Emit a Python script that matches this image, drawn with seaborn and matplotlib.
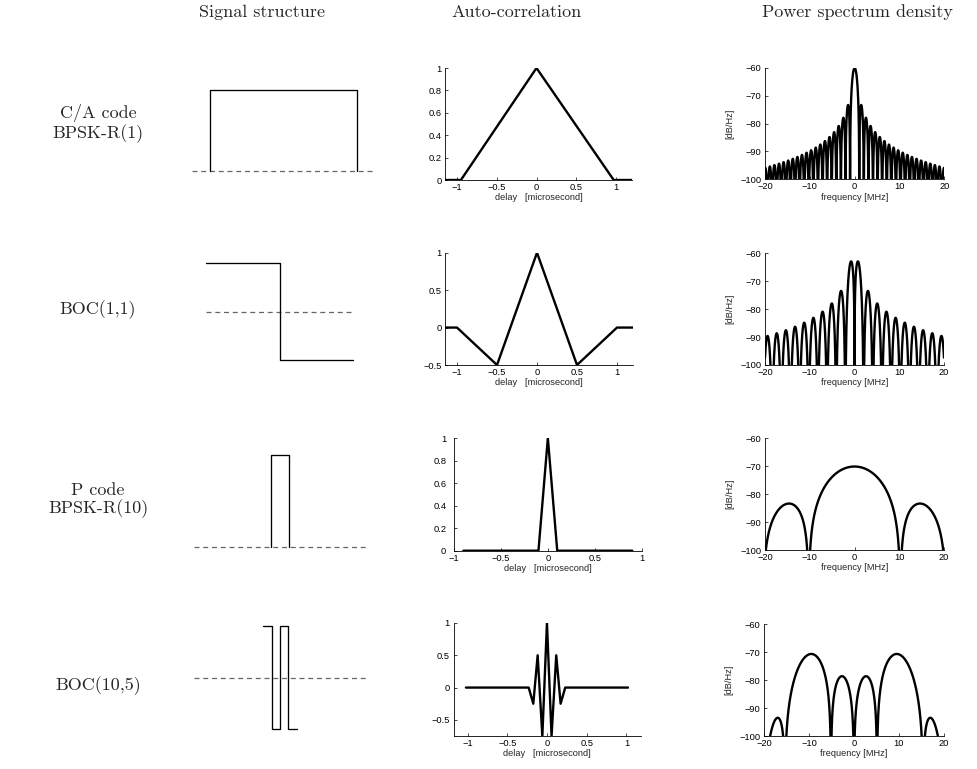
import numpy as np
import matplotlib
matplotlib.use("Agg")
import matplotlib.pyplot as plt
from matplotlib.ticker import FuncFormatter
import seaborn as sns

sns.set_theme(style="white")
plt.rcParams["font.family"] = ["Liberation Sans", "DejaVu Sans"]
plt.rcParams["axes.unicode_minus"] = True

# ---- labels ----------------------------------------------------------------
col_titles = ["Signal structure", "Auto-correlation", "Power spectrum density"]
row_labels = ["C/A code\nBPSK-R(1)", "BOC(1,1)", "P code\nBPSK-R(10)", "BOC(10,5)"]

# ---- signal structure: one chip of each waveform (time in microseconds) -----
sig_t_ca = [0.0, 0.0, 0.9775, 0.9775]
sig_v_ca = [0, 1, 1, 0]
sig_t_boc11 = [0.0, 0.489, 0.489, 0.9775]
sig_v_boc11 = [1, 1, -1, -1]
sig_t_p = [0.0, 0.0, 0.0978, 0.0978]
sig_v_p = [0, 1, 1, 0]
sig_t_boc105 = [0.0, 0.0489, 0.0489, 0.0978, 0.0978, 0.1467, 0.1467, 0.1956]
sig_v_boc105 = [1, 1, -1, -1, 1, 1, -1, -1]

# ---- auto-correlation vertices ---------------------------------------------
ac_delay_ca = [-1.15, -0.95, 0.0, 0.97, 1.2]
ac_val_ca = [0, 0, 1, 0, 0]
ac_delay_boc11 = [-1.15, -1.0, -0.5, 0.0, 0.5, 1.0, 1.2]
ac_val_boc11 = [0, 0, -0.5, 1, -0.5, 0, 0]
ac_delay_p = [-0.9, -0.1, 0.0, 0.1, 0.9]
ac_val_p = [0, 0, 1, 0, 0]
ac_delay_boc105 = [-1.02, -0.23, -0.172, -0.117, -0.058, 0.0,
                   0.058, 0.117, 0.172, 0.23, 1.02]
ac_val_boc105 = [0, 0, -0.25, 0.5, -0.75, 1, -0.75, 0.5, -0.25, 0, 0]

# ---- modulation parameters (MHz): subcarrier rate, chip rate ---------------
mod_subcarrier = [None, 1.023, None, 10.23]
mod_chiprate = [1.023, 1.023, 10.23, 5.115]

W, H = 978, 769
fig = plt.figure(figsize=(W / 100, H / 100), dpi=100)


def box(x0, y0, x1, y1):
    return [x0 / W, 1 - y1 / H, (x1 - x0) / W, (y1 - y0) / H]


serif = "cmr10"
title_fs = 13
# column titles
for x, t in zip([262, 517, 857], col_titles):
    fig.text(x / W, 1 - 12 / H, t, ha="center", va="center",
             fontsize=title_fs, family=serif)
# row titles
for y, t in zip([123.5, 310, 500.5, 686], row_labels):
    fig.text(98 / W, 1 - y / H, t, ha="center", va="center",
             fontsize=title_fs, family=serif, linespacing=1.1)

# ---- signal structure panels -----------------------------------------------
sig_boxes = [(191.7, 90, 375, 170.7), (206, 263.3, 353.3, 360),
             (194, 454.7, 366.7, 547.3), (194, 626, 366.7, 729)]
sig_xlims = [(-0.12, 1.1), (0.0, 0.9775), (-0.403, 0.505), (-0.408, 0.608)]
sig_ylims = [(0, 1), (-1, 1), (0, 1), (-1, 1)]
sig_data = [(sig_t_ca, sig_v_ca), (sig_t_boc11, sig_v_boc11),
            (sig_t_p, sig_v_p), (sig_t_boc105, sig_v_boc105)]
for b, xl, yl, (t, v) in zip(sig_boxes, sig_xlims, sig_ylims, sig_data):
    ax = fig.add_axes(box(*b))
    ax.axhline(0, color="0.4", lw=0.9, dashes=(4, 3), clip_on=False)
    sns.lineplot(x=t, y=v, ax=ax, estimator=None, sort=False,
                 color="black", lw=0.95)
    for ln in ax.lines:
        ln.set_clip_on(False)
    ax.set_xlim(*xl)
    ax.set_ylim(*yl)
    ax.axis("off")


def style_axes(ax, ypad=2.5):
    sns.despine(ax=ax)
    for s in ("left", "bottom"):
        ax.spines[s].set_linewidth(0.6)
        ax.spines[s].set_color("black")
    ax.tick_params(direction="in", length=2.5, width=0.5, labelsize=6.7,
                   colors="black", left=True, bottom=True)
    ax.tick_params(axis="x", pad=2.2)
    ax.tick_params(axis="y", pad=ypad)
    fmt = FuncFormatter(lambda v, p: f"{v:g}".replace("-", "\u2212"))
    ax.xaxis.set_major_formatter(fmt)
    ax.yaxis.set_major_formatter(fmt)


# ---- auto-correlation panels -----------------------------------------------
ac_boxes = [(445, 68, 632, 180), (445, 252.7, 633, 365),
            (454, 438, 641.7, 550.7), (454, 623, 640.7, 736)]
ac_xlims = [(-1.15, 1.2), (-1.15, 1.2), (-1, 1), (-1.17, 1.18)]
ac_ylims = [(0, 1), (-0.5, 1), (0, 1), (-0.75, 1)]
ac_yticks = [[0, 0.2, 0.4, 0.6, 0.8, 1], [-0.5, 0, 0.5, 1],
             [0, 0.2, 0.4, 0.6, 0.8, 1], [-0.5, 0, 0.5, 1]]
ac_ypads = [2.5, 2.5, 5.5, 3.0]
ac_data = [(ac_delay_ca, ac_val_ca), (ac_delay_boc11, ac_val_boc11),
           (ac_delay_p, ac_val_p), (ac_delay_boc105, ac_val_boc105)]
for b, xl, yl, yt, yp, (d, r) in zip(ac_boxes, ac_xlims, ac_ylims, ac_yticks,
                                     ac_ypads, ac_data):
    ax = fig.add_axes(box(*b))
    sns.lineplot(x=d, y=r, ax=ax, estimator=None, sort=False,
                 color="black", lw=1.7)
    ax.set_xlim(*xl)
    ax.set_ylim(*yl)
    ax.set_xticks([-1, -0.5, 0, 0.5, 1])
    ax.set_yticks(yt)
    style_axes(ax, yp)
    ax.set_xlabel("delay   [microsecond]", fontsize=6.7, labelpad=1)

# ---- power spectral density panels -----------------------------------------
freq = np.linspace(-20, 20, 8001) + 1e-7


def spectrum(fs, fc, f):
    # PSD of BPSK-R (fs is None) or sine-phased BOC(fs, fc), in dB/Hz
    x = np.pi * f / fc
    if fs is None:
        g = 1e-6 / fc * (np.sin(x) / x) ** 2
    else:
        n = int(round(2 * fs / fc))
        y = np.pi * f / (2 * fs)
        core = np.sin(x) if n % 2 == 0 else np.cos(x)
        g = 1e-6 * fc * (core * np.sin(y) / (np.pi * f * np.cos(y))) ** 2
    return 10 * np.log10(np.maximum(g, 1e-30))


psd_boxes = [(765, 67.7, 944.3, 179.3), (765, 253.3, 944, 365),
             (765, 438.3, 944, 550), (764, 624, 944, 736)]
for b, fs, fc in zip(psd_boxes, mod_subcarrier, mod_chiprate):
    ax = fig.add_axes(box(*b))
    sns.lineplot(x=freq, y=spectrum(fs, fc, freq), ax=ax, estimator=None,
                 sort=False, color="black", lw=1.7)
    ax.set_xlim(-20, 20)
    ax.set_ylim(-100, -60)
    ax.set_xticks([-20, -10, 0, 10, 20])
    ax.set_yticks([-100, -90, -80, -70, -60])
    style_axes(ax)
    ax.set_xlabel("frequency [MHz]", fontsize=6.7, labelpad=1)
    ax.set_ylabel("[dB/Hz]", fontsize=6.7, labelpad=4)

fig.savefig("out.png", dpi=100)
